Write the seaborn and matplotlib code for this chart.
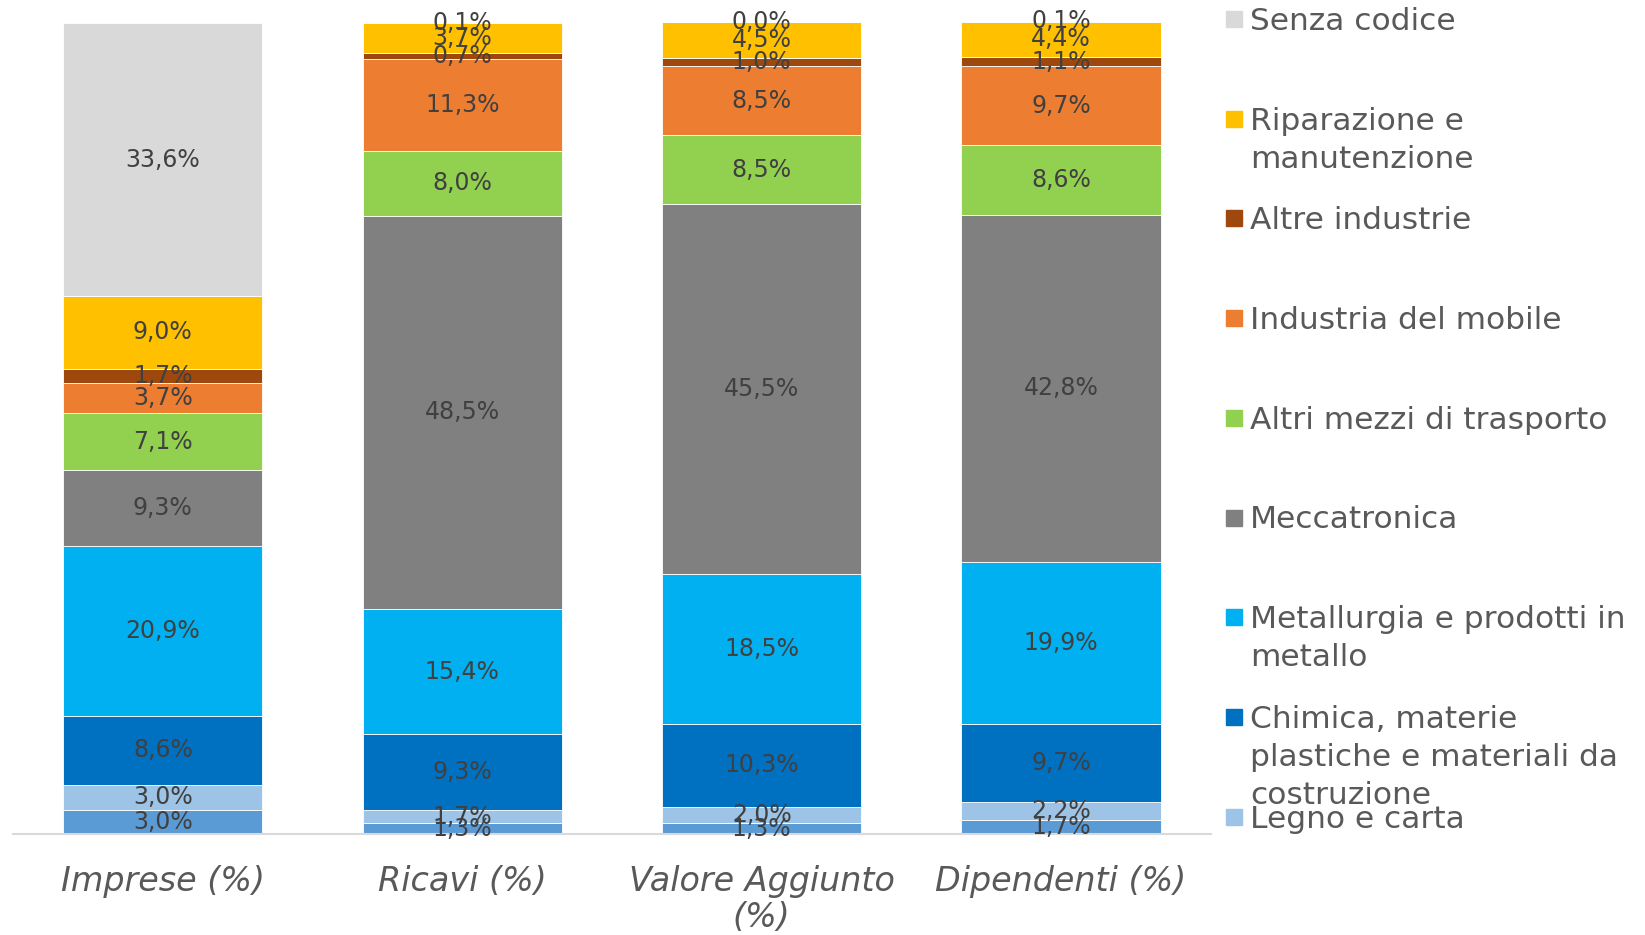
import matplotlib.pyplot as plt
from matplotlib.patches import Rectangle
import seaborn as sns
import pandas as pd
import numpy as np

sns.set_style("white")
plt.rcParams['font.family'] = ['DejaVu Sans']

# columns of the chart
categories = ['Imprese (%)', 'Ricavi (%)', 'Valore Aggiunto\n(%)', 'Dipendenti (%)']

# segments from bottom to top (values in %)
other_sector = [3.0, 1.3, 1.3, 1.7]      # legend entry cut off in the original
legno = [3.0, 1.7, 2.0, 2.2]
chimica = [8.6, 9.3, 10.3, 9.7]
metallurgia = [20.9, 15.4, 18.5, 19.9]
meccatronica = [9.3, 48.5, 45.5, 42.8]
altri_mezzi = [7.1, 8.0, 8.5, 8.6]
mobile = [3.7, 11.3, 8.5, 9.7]
altre_industrie = [1.7, 0.7, 1.0, 1.1]
riparazione = [9.0, 3.7, 4.5, 4.4]
senza_codice = [33.6, 0.1, 0.0, 0.1]

series = [
    ('Altro', other_sector, '#5B9BD5'),
    ('Legno e carta', legno, '#9DC3E6'),
    ('Chimica, materie\nplastiche e materiali da\ncostruzione', chimica, '#0070C0'),
    ('Metallurgia e prodotti in\nmetallo', metallurgia, '#00B0F0'),
    ('Meccatronica', meccatronica, '#808080'),
    ('Altri mezzi di trasporto', altri_mezzi, '#92D050'),
    ('Industria del mobile', mobile, '#ED7D31'),
    ('Altre industrie', altre_industrie, '#9E480E'),
    ('Riparazione e\nmanutenzione', riparazione, '#FFC000'),
    ('Senza codice', senza_codice, '#D9D9D9'),
]

fig = plt.figure(figsize=(16.45, 9.35), dpi=100)
ax = fig.add_axes([0.008, 0.108, 0.728, 0.868])

label_color = '#404040'
bottom = np.zeros(len(categories))
for name, vals, col in series:
    df = pd.DataFrame({'cat': categories, 'val': vals})
    sns.barplot(data=df, x='cat', y='val', color=col, bottom=bottom,
                width=0.665, errorbar=None, ax=ax, saturation=1,
                edgecolor='white', linewidth=0.6)
    for i, v in enumerate(vals):
        ax.text(i, bottom[i] + v / 2, f"{v:.1f}%".replace('.', ','),
                ha='center', va='center', fontsize=17, color=label_color)
    bottom = bottom + np.array(vals)

ax.set_ylim(0, 100)
ax.set_xlim(-0.5, len(categories) - 0.5)
ax.set_xlabel('')
ax.set_ylabel('')
ax.set_yticks([])
for side in ['top', 'right', 'left']:
    ax.spines[side].set_visible(False)
ax.spines['bottom'].set_color('#D9D9D9')
ax.spines['bottom'].set_linewidth(1.5)
ax.tick_params(axis='x', length=0, pad=22)
ax.set_xticks(range(len(categories)))
ax.set_xticklabels(categories, fontsize=24, fontstyle='italic',
                   color='#595959', linespacing=1.15, va='top')

# legend, Excel style: fixed slots, top entry first, last one does not fit
legend_items = [s for s in series[::-1]][:9]
y0 = 1 - 19 / 935
step = 99.7 / 935
for k, (name, vals, col) in enumerate(legend_items):
    yc = y0 - k * step
    fig.add_artist(Rectangle((1226 / 1645, yc - 8 / 935), 16 / 1645, 16 / 935,
                             transform=fig.transFigure, color=col))
    fig.text(1250 / 1645, yc + 12 / 935, name, ha='left', va='top',
             fontsize=22.5, color='#595959', linespacing=1.4)

fig.savefig('out.png', dpi=100)
